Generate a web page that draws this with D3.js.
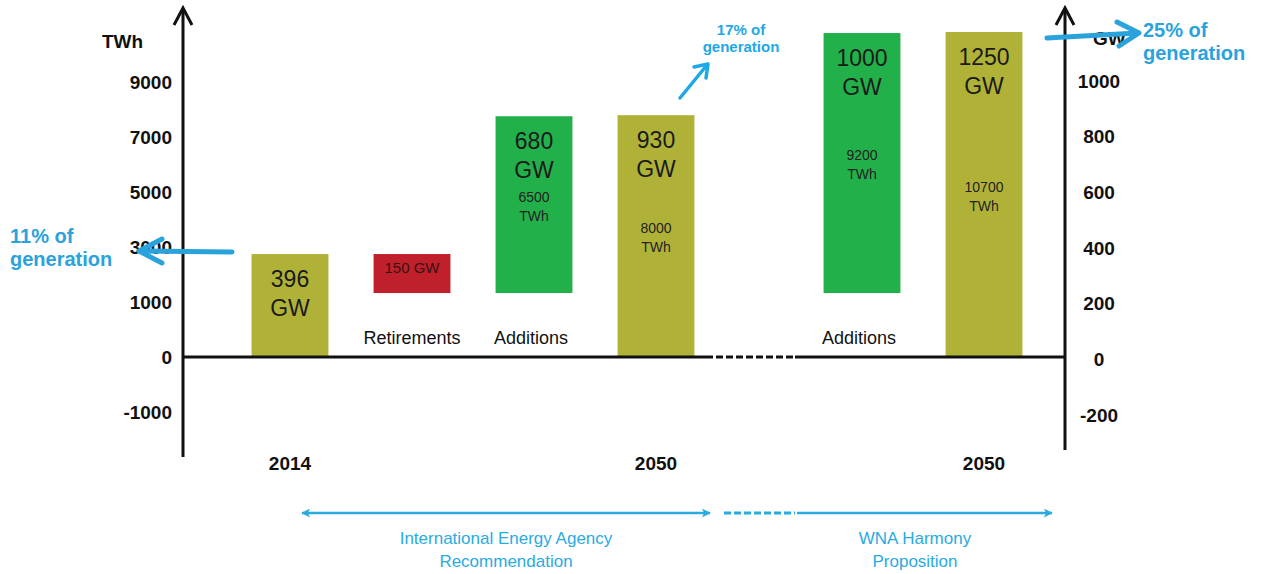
<!DOCTYPE html>
<html><head><meta charset="utf-8">
<script src="https://cdn.jsdelivr.net/npm/d3@7"></script>
<style>
body{margin:0;background:#fff;}
svg{display:block;font-family:"Liberation Sans",Arial,sans-serif;}
</style>
</head><body>
<svg id="chart" width="1263" height="574"></svg>
<script>
// ---------------- data ----------------
const steps    = ["2014", "Retirements", "Additions", "2050", "Additions", "2050"];
const scenario = ["IEA", "IEA", "IEA", "IEA", "WNA", "WNA"];
const kinds    = ["total", "retire", "add", "total", "add", "total"];
const gwValues = [396, 150, 680, 930, 1000, 1250];
const twhValues = [null, null, 6500, 8000, 9200, 10700];
const twhTicks = ["-1000", "0", "1000", "3000", "5000", "7000", "9000"];
const gwTicks  = ["-200", "0", "200", "400", "600", "800", "1000"];
const shareLabels = [["11% of", "generation"], ["17% of", "generation"], ["25% of", "generation"]];
const scenarioNames = { IEA: ["International Energy Agency", "Recommendation"], WNA: ["WNA Harmony", "Proposition"] };

// ---------------- styles ----------------
const colors = { total: "#b0b238", add: "#22b04b", retire: "#c0202b" };
const blue = "#2aa2dc";
const blue2 = "#29abe2";

const svg = d3.select("#chart");
const baseY = 357;

// scales
const xIEA = d3.scaleBand().domain([0, 1, 2, 3]).range([229, 717]).paddingInner(0.37).paddingOuter(0.185);
const xWNA = d3.scaleBand().domain([4, 5]).range([801, 1045]).paddingInner(0.37).paddingOuter(0.185);
const xOf = i => scenario[i] === "IEA" ? xIEA(i) : xWNA(i);
const bw = xIEA.bandwidth();

const y = d3.scaleLinear().domain([0, 1250]).range([baseY, 32]);
const yTwh = d3.scalePoint().domain(twhTicks).range([412, 82]);
const yGw = d3.scalePoint().domain(gwTicks).range([415, 81]);

// compute waterfall extents: additions start from the 2014 fleet remaining after retirements
let level = 0, remaining = 0;
const bars = steps.map((s, i) => {
  const v = gwValues[i];
  let lo, hi;
  if (kinds[i] === "total") { lo = 0; hi = v; if (i === 0) { level = v; remaining = v; } }
  else if (kinds[i] === "retire") { hi = level; lo = level - v; remaining = lo; }
  else { lo = remaining; hi = remaining + v; }
  return { i, step: s, kind: kinds[i], gw: v, twh: twhValues[i], lo, hi };
});

// bars
const g = svg.append("g");
g.selectAll("rect.bar").data(bars).join("rect")
  .attr("class", "bar")
  .attr("x", d => xOf(d.i))
  .attr("width", bw)
  .attr("y", d => y(d.hi))
  .attr("height", d => y(d.lo) - y(d.hi))
  .attr("fill", d => colors[d.kind]);

// labels in bars
bars.forEach(d => {
  const cx = xOf(d.i) + bw / 2;
  if (d.kind === "retire") {
    g.append("text").attr("x", cx).attr("y", (y(d.hi) + y(d.lo)) / 2 - 1)
      .attr("text-anchor", "middle").attr("font-size", 15).attr("fill", "#3a1010")
      .text(d.gw + " GW");
  } else {
    const top = y(d.hi);
    g.append("text").attr("x", cx).attr("y", top + 33)
      .attr("text-anchor", "middle").attr("font-size", 23).attr("fill", "#1a1a1a")
      .text(d.gw);
    g.append("text").attr("x", cx).attr("y", top + 62)
      .attr("text-anchor", "middle").attr("font-size", 23).attr("fill", "#1a1a1a")
      .text("GW");
  }
  if (d.twh != null) {
    const mid = (y(d.hi) + y(d.lo)) / 2;
    g.append("text").attr("x", cx).attr("y", mid - 3)
      .attr("text-anchor", "middle").attr("font-size", 14).attr("fill", "#222")
      .text(d.twh);
    g.append("text").attr("x", cx).attr("y", mid + 16)
      .attr("text-anchor", "middle").attr("font-size", 14).attr("fill", "#222")
      .text("TWh");
  }
  // category labels
  if (d.kind === "total") {
    g.append("text").attr("x", cx).attr("y", 470)
      .attr("text-anchor", "middle").attr("font-size", 19).attr("font-weight", "bold").attr("fill", "#111")
      .text(d.step);
  } else {
    g.append("text").attr("x", cx - (d.kind === "add" ? 3 : 0)).attr("y", 344)
      .attr("text-anchor", "middle").attr("font-size", 18).attr("fill", "#111")
      .text(d.step);
  }
});

// baseline (zero line) with dashed gap between scenarios
const axG = svg.append("g").attr("stroke", "#111").attr("stroke-width", 3).attr("fill", "none");
axG.append("line").attr("x1", 183).attr("x2", 713).attr("y1", baseY).attr("y2", baseY);
axG.append("line").attr("x1", 716).attr("x2", 793).attr("y1", baseY).attr("y2", baseY).attr("stroke-dasharray", "7,3");
axG.append("line").attr("x1", 795).attr("x2", 1065).attr("y1", baseY).attr("y2", baseY);

// vertical axes with chevron arrows
function vAxis(x, bottom) {
  axG.append("line").attr("x1", x).attr("x2", x).attr("y1", 9).attr("y2", bottom);
  axG.append("path").attr("d", `M${x - 9},25 L${x},8 L${x + 9},25`).attr("stroke-linejoin", "miter");
}
vAxis(183, 457);
vAxis(1065, 450);

// tick labels via d3 axes
const leftAxis = svg.append("g").attr("transform", "translate(183,0)")
  .call(d3.axisLeft(yTwh).tickSize(0).tickPadding(11));
leftAxis.select(".domain").remove();
leftAxis.selectAll("text").attr("font-size", 19).attr("font-weight", "bold").attr("fill", "#111")
  .attr("font-family", "Liberation Sans, Arial, sans-serif");

const rightAxis = svg.append("g").attr("transform", "translate(1065,0)")
  .call(d3.axisRight(yGw).tickSize(0).tickPadding(34));
rightAxis.select(".domain").remove();
rightAxis.selectAll("text").attr("text-anchor", "middle").attr("font-size", 19).attr("font-weight", "bold").attr("fill", "#111")
  .attr("font-family", "Liberation Sans, Arial, sans-serif");

// unit labels
svg.append("text").attr("x", 102).attr("y", 48).attr("font-size", 19).attr("font-weight", "bold").attr("fill", "#111").text("TWh");
svg.append("text").attr("x", 1093).attr("y", 45).attr("font-size", 19).attr("font-weight", "bold").attr("fill", "#111").text("GW");

// share annotations (arrows + text)
const ann = svg.append("g").attr("stroke", blue).attr("fill", "none").attr("stroke-linecap", "round").attr("stroke-linejoin", "round");
ann.append("line").attr("x1", 232).attr("y1", 252).attr("x2", 140).attr("y2", 251).attr("stroke-width", 5);
ann.append("path").attr("d", "M162,239 L139,251 L162,263").attr("stroke-width", 5);
ann.append("line").attr("x1", 680).attr("y1", 98).attr("x2", 707).attr("y2", 65).attr("stroke-width", 3.5).attr("stroke", "#1ea8e6");
ann.append("path").attr("d", "M694,67 L708,64 L706,78").attr("stroke-width", 3.5).attr("stroke", "#1ea8e6");
ann.append("line").attr("x1", 1047).attr("y1", 38).attr("x2", 1138).attr("y2", 33).attr("stroke-width", 5);
ann.append("path").attr("d", "M1117,22 L1139,33 L1119,46").attr("stroke-width", 5);

const t11 = svg.append("g").attr("fill", blue).attr("font-weight", "bold").attr("font-size", 20);
t11.append("text").attr("x", 10).attr("y", 243).text(shareLabels[0][0]);
t11.append("text").attr("x", 10).attr("y", 266).text(shareLabels[0][1]);
const t17 = svg.append("g").attr("fill", "#1ea8e6").attr("font-weight", "bold").attr("font-size", 15).attr("text-anchor", "middle");
t17.append("text").attr("x", 741).attr("y", 35).text(shareLabels[1][0]);
t17.append("text").attr("x", 741).attr("y", 52).text(shareLabels[1][1]);
const t25 = svg.append("g").attr("fill", blue).attr("font-weight", "bold").attr("font-size", 20);
t25.append("text").attr("x", 1143).attr("y", 37).text(shareLabels[2][0]);
t25.append("text").attr("x", 1143).attr("y", 60).text(shareLabels[2][1]);

// scenario span arrows at bottom
const defs = svg.append("defs");
defs.append("marker").attr("id", "ah").attr("viewBox", "0 0 10 10").attr("refX", 9).attr("refY", 5)
  .attr("markerWidth", 12).attr("markerHeight", 9).attr("markerUnits", "userSpaceOnUse").attr("orient", "auto-start-reverse")
  .append("path").attr("d", "M0,0 L10,5 L0,10 L2.5,5 z").attr("fill", blue2);
const sp = svg.append("g").attr("stroke", blue2).attr("stroke-width", 2.5);
sp.append("line").attr("x1", 302).attr("x2", 710).attr("y1", 513).attr("y2", 513)
  .attr("marker-start", "url(#ah)").attr("marker-end", "url(#ah)");
sp.append("line").attr("x1", 724).attr("x2", 795).attr("y1", 513).attr("y2", 513).attr("stroke-dasharray", "7,3").attr("stroke-width", 3);
sp.append("line").attr("x1", 797).attr("x2", 1052).attr("y1", 513).attr("y2", 513).attr("marker-end", "url(#ah)");

const st = svg.append("g").attr("fill", blue2).attr("font-size", 17).attr("text-anchor", "middle");
st.append("text").attr("x", 506).attr("y", 544).text(scenarioNames.IEA[0]);
st.append("text").attr("x", 506).attr("y", 567).text(scenarioNames.IEA[1]);
st.append("text").attr("x", 915).attr("y", 544).text(scenarioNames.WNA[0]);
st.append("text").attr("x", 915).attr("y", 567).text(scenarioNames.WNA[1]);
</script>
</body></html>
